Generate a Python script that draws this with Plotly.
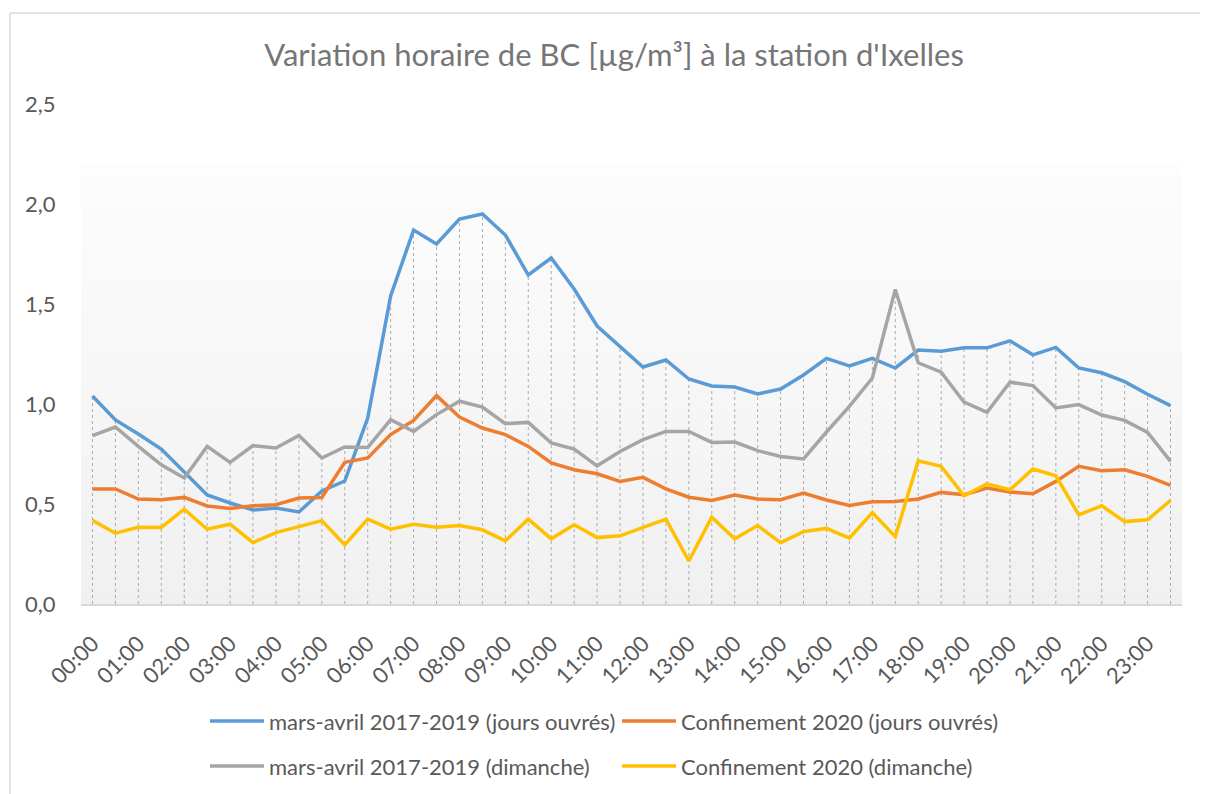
import plotly.graph_objects as go

# Half-hourly categories, one label per hour on the axis
hours = [f"{h:02d}:{m:02d}" for h in range(24) for m in (0, 30)]
hour_ticks = [f"{h:02d}:00" for h in range(24)]

# BC concentrations [µg/m³]
mars_avril_ouvres = [1.04, 0.92, 0.85, 0.775, 0.66, 0.545, 0.505, 0.47, 0.48, 0.46, 0.565, 0.615,
                     0.93, 1.54, 1.87, 1.80, 1.925, 1.95, 1.845, 1.645, 1.73, 1.575, 1.39, 1.29,
                     1.185, 1.22, 1.125, 1.09, 1.085, 1.05, 1.075, 1.145, 1.228, 1.19, 1.228, 1.18,
                     1.27, 1.264, 1.281, 1.281, 1.316, 1.246, 1.283, 1.18, 1.156, 1.112, 1.049, 0.992]
confinement_ouvres = [0.575, 0.575, 0.525, 0.521, 0.533, 0.49, 0.478, 0.491, 0.496, 0.53, 0.533, 0.708,
                      0.73, 0.847, 0.918, 1.042, 0.935, 0.88, 0.847, 0.788, 0.705, 0.671, 0.651, 0.613,
                      0.633, 0.576, 0.534, 0.518, 0.545, 0.525, 0.521, 0.555, 0.52, 0.493, 0.511, 0.513,
                      0.525, 0.558, 0.546, 0.58, 0.56, 0.551, 0.613, 0.688, 0.666, 0.671, 0.638, 0.593]
mars_avril_dimanche = [0.842, 0.885, 0.788, 0.696, 0.63, 0.788, 0.708, 0.792, 0.78, 0.843, 0.73, 0.785,
                       0.783, 0.922, 0.863, 0.947, 1.014, 0.985, 0.902, 0.908, 0.805, 0.775, 0.691, 0.763,
                       0.822, 0.863, 0.863, 0.808, 0.81, 0.767, 0.738, 0.725, 0.86, 0.988, 1.13, 1.573,
                       1.206, 1.159, 1.009, 0.958, 1.109, 1.092, 0.98, 0.997, 0.945, 0.918, 0.858, 0.713]
confinement_dimanche = [0.418, 0.354, 0.384, 0.383, 0.474, 0.374, 0.399, 0.307, 0.357, 0.387, 0.417, 0.296,
                        0.424, 0.374, 0.399, 0.384, 0.392, 0.371, 0.316, 0.424, 0.326, 0.396, 0.332, 0.341,
                        0.384, 0.424, 0.215, 0.434, 0.326, 0.392, 0.307, 0.362, 0.378, 0.329, 0.457, 0.337,
                        0.716, 0.688, 0.541, 0.601, 0.571, 0.675, 0.641, 0.446, 0.491, 0.412, 0.421, 0.518]

series = [
    ("mars-avril 2017-2019 (jours ouvrés)", mars_avril_ouvres, "#5B9BD5"),
    ("Confinement 2020 (jours ouvrés)", confinement_ouvres, "#ED7D31"),
    ("mars-avril 2017-2019 (dimanche)", mars_avril_dimanche, "#A5A5A5"),
    ("Confinement 2020 (dimanche)", confinement_dimanche, "#FFC000"),
]

FONT = "Lato, Carlito, Calibri, sans-serif"
TXT = "#595959"

# figure geometry (px) -> paper coords helpers
W, H = 1200, 786
L, R, T, B = 73, 26, 96, 190
PW, PH = W - L - R, H - T - B


def px_x(x):
    return (x - L) / PW


def px_y(y):
    return (H - B - y) / PH


fig = go.Figure()

# Excel-style drop lines from the highest series down to the axis
drop_x, drop_y = [], []
for i, h in enumerate(hours):
    top = max(s[1][i] for s in series)
    drop_x += [h, h, None]
    drop_y += [0, top, None]
fig.add_trace(go.Scatter(x=drop_x, y=drop_y, mode="lines", showlegend=False, hoverinfo="skip",
                         line=dict(color="#ababab", width=1, dash="dot")))

for name, vals, color in series:
    fig.add_trace(go.Scatter(x=hours, y=vals, mode="lines", name=name, showlegend=False,
                             line=dict(color=color, width=3.5)))

# plot area gradient (white -> light gray) approximated with bands
shapes = []
n = 30
top, bottom = px_y(155), 0.0
for k in range(n):
    t = (k + 0.5) / n
    c = round(253 - 13 * t)
    shapes.append(dict(type="rect", xref="paper", yref="paper", layer="below",
                       x0=0, x1=1.0, y0=top - (top - bottom) * k / n,
                       y1=top - (top - bottom) * (k + 1) / n - 0.0005,
                       fillcolor=f"rgb({c},{c},{c})", line=dict(width=0)))
# chart border (only top and left edges are inside the window)
border = dict(color="#d9d9d9", width=1.5)
shapes.append(dict(type="line", xref="paper", yref="paper", x0=px_x(2), x1=px_x(W + 20),
                   y0=px_y(5), y1=px_y(5), line=border))
shapes.append(dict(type="line", xref="paper", yref="paper", x0=px_x(2), x1=px_x(2),
                   y0=px_y(5), y1=px_y(H + 20), line=border))

# legend drawn Excel-like: 2 rows x 2 columns
annotations = []
leg_pos = [(202, 713), (614, 713), (202, 758), (614, 758)]
for (name, vals, color), (lx, ly) in zip(series, leg_pos):
    shapes.append(dict(type="line", xref="paper", yref="paper",
                       x0=px_x(lx), x1=px_x(lx + 54), y0=px_y(ly), y1=px_y(ly),
                       line=dict(color=color, width=3.5)))
    annotations.append(dict(text=name, xref="paper", yref="paper", x=px_x(lx + 57), y=px_y(ly),
                            xanchor="left", yanchor="middle", showarrow=False,
                            font=dict(size=22, color=TXT, family=FONT)))

fig.update_layout(
    width=W, height=H,
    margin=dict(l=L, r=R, t=T, b=B),
    paper_bgcolor="white", plot_bgcolor="rgba(0,0,0,0)",
    separators=", ",
    font=dict(family=FONT, color=TXT, size=22),
    showlegend=False,
    title=dict(text="Variation horaire de BC [µg/m³] à la station d'Ixelles",
               x=606 / W, xref="container", xanchor="center",
               y=1 - 47 / H, yref="container", yanchor="middle",
               font=dict(family=FONT, size=31, color="#767676")),
    shapes=shapes,
    annotations=annotations,
    xaxis=dict(type="category", categoryorder="array", categoryarray=hours,
               range=[-0.5, 47.5], tickmode="array", tickvals=hour_ticks, ticktext=hour_ticks,
               tickangle=-45, showgrid=False, zeroline=False,
               showline=True, linecolor="#d9d9d9", linewidth=2,
               ticks="outside", ticklen=16, tickcolor="rgba(0,0,0,0)",
               tickfont=dict(size=22, color=TXT)),
    yaxis=dict(range=[0, 2.5], dtick=0.5, tickformat=".1f", showgrid=False, zeroline=False,
               showline=False, ticks="outside", ticklen=20, tickcolor="rgba(0,0,0,0)",
               tickfont=dict(size=22, color=TXT)),
)

fig.write_html("out.html")
